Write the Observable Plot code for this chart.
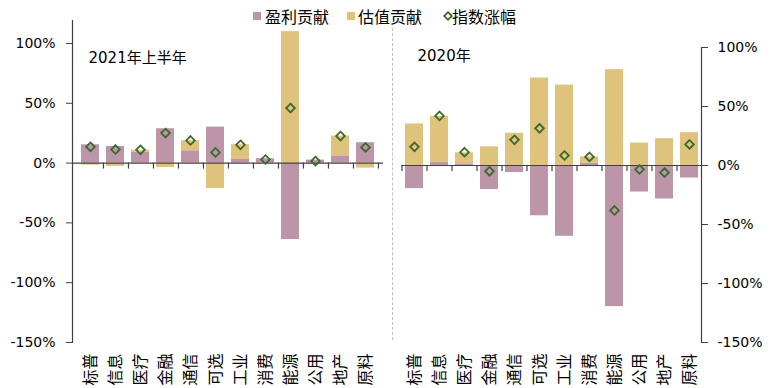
<!DOCTYPE html>
<html><head><meta charset="utf-8">
<script src="https://cdn.jsdelivr.net/npm/d3@7"></script>
<script src="https://cdn.jsdelivr.net/npm/@observablehq/plot@0.6"></script>
<style>
body{margin:0;background:#fff;}
#chart{position:relative;width:776px;height:388px;font-family:"DejaVu Sans","Noto Sans CJK SC",sans-serif;color:#000;overflow:hidden}
#chart svg{position:absolute;top:0;overflow:visible}
.lg{position:absolute;top:5px;font-size:16px;line-height:22px;font-family:"Noto Sans CJK SC",sans-serif;white-space:nowrap}
.sw{position:absolute;top:12px;width:8px;height:8px}
#sep{position:absolute;left:392px;top:28px;height:312px;border-left:1px dashed #BFBFBF}
</style></head><body><div id="chart"><div id="sep"></div></div>
<script>
const categories = ["标普","信息","医疗","金融","通信","可选","工业","消费","能源","公用","地产","原料"];
const profit2021 = [15.3,13.9,8.9,28.7,10.3,30.1,3.0,3.6,-63.9,2.5,5.5,17.0];
const valuation2021 = [-1.7,-2.8,1.9,-3.7,8.4,-21.3,12.3,-0.6,109.9,-0.8,17.1,-4.2];
const index2021 = [13.6,11.4,11.1,25.1,18.9,8.9,15.3,3.0,46.0,1.7,22.6,13.1];
const profit2020 = [-19.6,2.8,1.4,-20.4,-6.0,-42.6,-60.0,2.0,-119.6,-22.5,-28.4,-10.6];
const valuation2020 = [35.2,38.9,9.3,15.8,27.3,74.1,68.1,5.3,81.2,19.0,22.7,27.8];
const index2020 = [15.8,42.0,11.3,-4.9,21.8,31.5,8.5,7.3,-38.1,-3.4,-6.0,17.9];
const yTicks = [-150,-100,-50,0,50,100];
const seriesNames = ["盈利贡献","估值贡献","指数涨幅"];
const panelTitles = ["2021年上半年","2020年"];
const colors = ["#BC95A9","#DFC37D","#3B6A2A"];

const fmt = d => d + "%";
function rows(profit, val){
  return categories.flatMap((c,i)=>[
    {cat:c, series:seriesNames[0], value:profit[i]},
    {cat:c, series:seriesNames[1], value:val[i]}
  ]);
}
function pts(idx){ return categories.map((c,i)=>({cat:c, value:idx[i]})); }

const font = "DejaVu Sans, Noto Sans CJK SC, sans-serif";
const axisColor = "#404040";
const dotOpts = {x:"cat", y:"value", symbol:"diamond2", r:3.9, stroke:colors[2], strokeWidth:1.8, fill:"none"};

// Left panel
const L = {width:392, height:388, ml:72, mr:9, mt:20, mb:46};
const stepL = (L.width - L.ml - L.mr) / categories.length;
const left = Plot.plot({
  width:L.width, height:L.height,
  marginLeft:L.ml, marginRight:L.mr, marginTop:L.mt, marginBottom:L.mb,
  style:{fontFamily:font, fontSize:"14px", color:"#000", background:"transparent", overflow:"visible"},
  x:{type:"band", domain:categories, paddingInner:0.27, paddingOuter:0.135},
  y:{domain:[-150,119.2]},
  color:{domain:seriesNames.slice(0,2), range:colors.slice(0,2)},
  marks:[
    Plot.barY(rows(profit2021, valuation2021), Plot.stackY({x:"cat", y:"value", fill:"series", order:null})),
    Plot.ruleY([0], {stroke:axisColor, strokeWidth:1.2}),
    Plot.ruleX(categories, {x:d=>d, y1:0, y2:-5, dx:stepL/2, stroke:axisColor, strokeWidth:1.2}),
    Plot.dot(pts(index2021), dotOpts),
    Plot.frame({anchor:"left", stroke:axisColor, strokeWidth:1.2}),
    Plot.axisY({ticks:yTicks, tickSize:6, tickPadding:11, tickFormat:fmt, fontSize:14, stroke:axisColor, label:null}),
    Plot.axisX({tickSize:0, tickPadding:11, tickRotate:-90, fontSize:16, label:null, fontFamily:"Noto Sans CJK SC, sans-serif"}),
    Plot.text([panelTitles[0]], {frameAnchor:"top-left", dx:16, dy:32, textAnchor:"start", fontSize:15})
  ]
});
left.style.left = "0px";

// Right panel
const R = {left:392, width:384, ml:9, mr:75, mt:47, mb:46};
const stepR = (R.width - R.ml - R.mr) / categories.length;
const right = Plot.plot({
  width:R.width, height:388,
  marginLeft:R.ml, marginRight:R.mr, marginTop:R.mt, marginBottom:R.mb,
  style:{fontFamily:font, fontSize:"14px", color:"#000", background:"transparent", overflow:"visible"},
  x:{type:"band", domain:categories, paddingInner:0.29, paddingOuter:0.145},
  y:{domain:[-150,100]},
  color:{domain:seriesNames.slice(0,2), range:colors.slice(0,2)},
  marks:[
    Plot.barY(rows(profit2020, valuation2020), Plot.stackY({x:"cat", y:"value", fill:"series", order:null})),
    Plot.ruleY([0], {stroke:axisColor, strokeWidth:1.2}),
    Plot.ruleX(categories, {x:d=>d, y1:0, y2:-5, dx:-stepR/2, stroke:axisColor, strokeWidth:1.2}),
    Plot.dot(pts(index2020), dotOpts),
    Plot.frame({anchor:"right", stroke:axisColor, strokeWidth:1.2}),
    Plot.axisY({anchor:"right", ticks:yTicks, tickSize:6, tickPadding:10, tickFormat:fmt, fontSize:14, stroke:axisColor, label:null}),
    Plot.axisX({tickSize:0, tickPadding:11, tickRotate:-90, fontSize:16, label:null, fontFamily:"Noto Sans CJK SC, sans-serif"}),
    Plot.text([panelTitles[1]], {frameAnchor:"top-left", dx:16, dy:3, textAnchor:"start", fontSize:15})
  ]
});
right.style.left = R.left + "px";

const chart = document.getElementById("chart");
chart.appendChild(left);
chart.appendChild(right);

// Legend
const legendPos = [{sw:253, tx:265},{sw:347, tx:358},{sw:443, tx:452}];
seriesNames.forEach((name,i)=>{
  if (i < 2) {
    const s = document.createElement("div");
    s.className = "sw";
    s.style.left = legendPos[i].sw + "px";
    s.style.background = colors[i];
    chart.appendChild(s);
  } else {
    const ns = "http://www.w3.org/2000/svg";
    const svg = document.createElementNS(ns, "svg");
    svg.setAttribute("width", 10); svg.setAttribute("height", 10);
    svg.style.left = legendPos[i].sw + "px";
    svg.style.top = "11px";
    const p = document.createElementNS(ns, "path");
    p.setAttribute("d", "M5,1.2L8.8,5L5,8.8L1.2,5Z");
    p.setAttribute("fill", "none");
    p.setAttribute("stroke", colors[2]);
    p.setAttribute("stroke-width", "1.8");
    svg.appendChild(p);
    chart.appendChild(svg);
  }
  const t = document.createElement("div");
  t.className = "lg";
  t.style.left = legendPos[i].tx + "px";
  t.textContent = name;
  chart.appendChild(t);
});
</script>
</body></html>
